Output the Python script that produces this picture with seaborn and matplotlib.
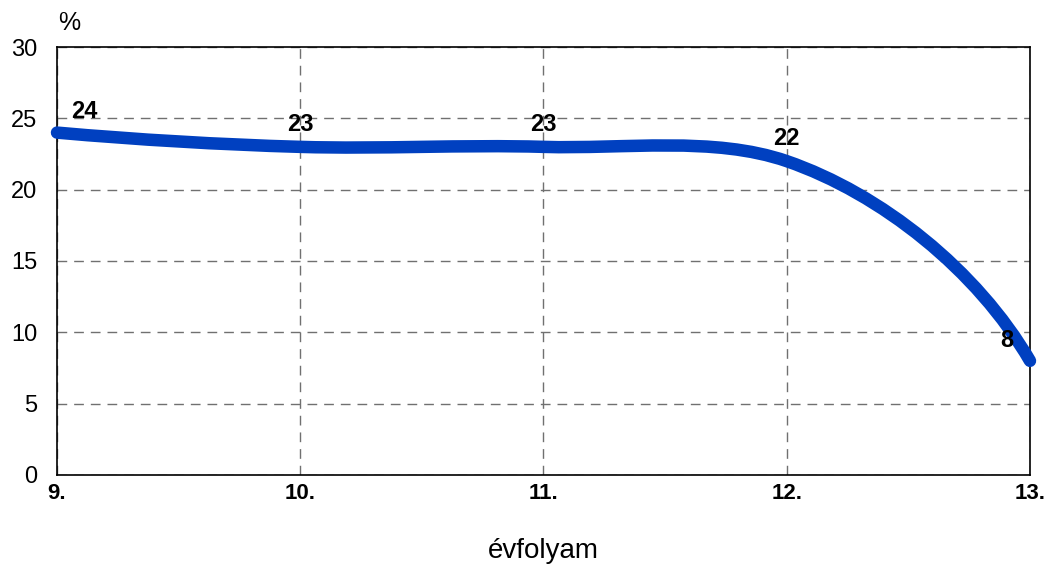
import numpy as np
import pandas as pd
import seaborn as sns
import matplotlib.pyplot as plt
from matplotlib.path import Path
from matplotlib.patches import PathPatch

grades = [9, 10, 11, 12, 13]
grade_labels = ["9.", "10.", "11.", "12.", "13."]
share = [24, 23, 23, 22, 8]

df = pd.DataFrame({"grade": grades, "share": share})

sns.set_style("white")
plt.rcParams["font.family"] = ["Liberation Sans", "DejaVu Sans"]
plt.rcParams["text.color"] = "black"
plt.rcParams["xtick.color"] = "black"
plt.rcParams["ytick.color"] = "black"

fig = plt.figure(figsize=(10.48, 5.67), dpi=100)
ax = fig.add_axes([0.0544, 0.1623, 0.9284, 0.7548])

# seaborn sets up the axes from the data; the smoothed curve is drawn on top
sns.lineplot(data=df, x="grade", y="share", ax=ax, lw=0, legend=False)

ax.set_xlim(9, 13)
ax.set_ylim(0, 30)


def reflect(v, chord):
    # mirror vector v about the direction of chord
    c = chord / np.linalg.norm(chord)
    return 2 * np.dot(v, c) * c - v


# smoothed line: chordal Catmull-Rom computed in screen space
P = ax.transData.transform(np.column_stack([grades, share]).astype(float))
n = len(P)
L = np.linalg.norm(np.diff(P, axis=0), axis=1)
T = [None] * n
for i in range(1, n - 1):
    T[i] = ((P[i] - P[i - 1]) / L[i - 1]
            - (P[i + 1] - P[i - 1]) / (L[i - 1] + L[i])
            + (P[i + 1] - P[i]) / L[i])
T[0] = reflect(T[1], P[1] - P[0])
T[0] = T[0] / np.linalg.norm(T[0])
T[-1] = reflect(T[-2], P[-1] - P[-2])
T[-1] = T[-1] / np.linalg.norm(T[-1])

verts = [P[0]]
codes = [Path.MOVETO]
for i in range(n - 1):
    verts += [P[i] + T[i] * L[i] / 3, P[i + 1] - T[i + 1] * L[i] / 3, P[i + 1]]
    codes += [Path.CURVE4] * 3
verts = ax.transData.inverted().transform(np.array(verts))
patch = PathPatch(Path(verts, codes), facecolor="none", edgecolor="#0040C0",
                  lw=9, capstyle="round", joinstyle="round", clip_on=False, zorder=3)
ax.add_patch(patch)

ax.set_xticks(grades)
ax.set_xticklabels(grade_labels, fontsize=16, fontweight="bold")
ax.set_yticks(range(0, 31, 5))
ax.tick_params(axis="y", labelsize=17, length=0, pad=14)
ax.tick_params(axis="x", length=0, pad=6)
ax.grid(True, color="#707070", linestyle=(0, (7, 5)), lw=1)
for s in ax.spines.values():
    s.set_color("black")
    s.set_linewidth(1.2)
    s.set_visible(True)
ax.set_xlabel("")
ax.set_ylabel("")

offsets = {9: (20, 15), 13: (-17, 15)}
for g, v in zip(grades, share):
    dx, dy = offsets.get(g, (0, 16))
    ax.annotate(str(v), (g, v), xytext=(dx, dy), textcoords="offset points",
                ha="center", va="center", fontsize=17, fontweight="bold", zorder=4)

fig.text(69 / 1048, 1 - 23 / 567, "%", fontsize=18, ha="center", va="center")
fig.text(543 / 1048, 1 - 551 / 567, "évfolyam", fontsize=20, ha="center", va="center")

fig.savefig("out.png", dpi=100)
